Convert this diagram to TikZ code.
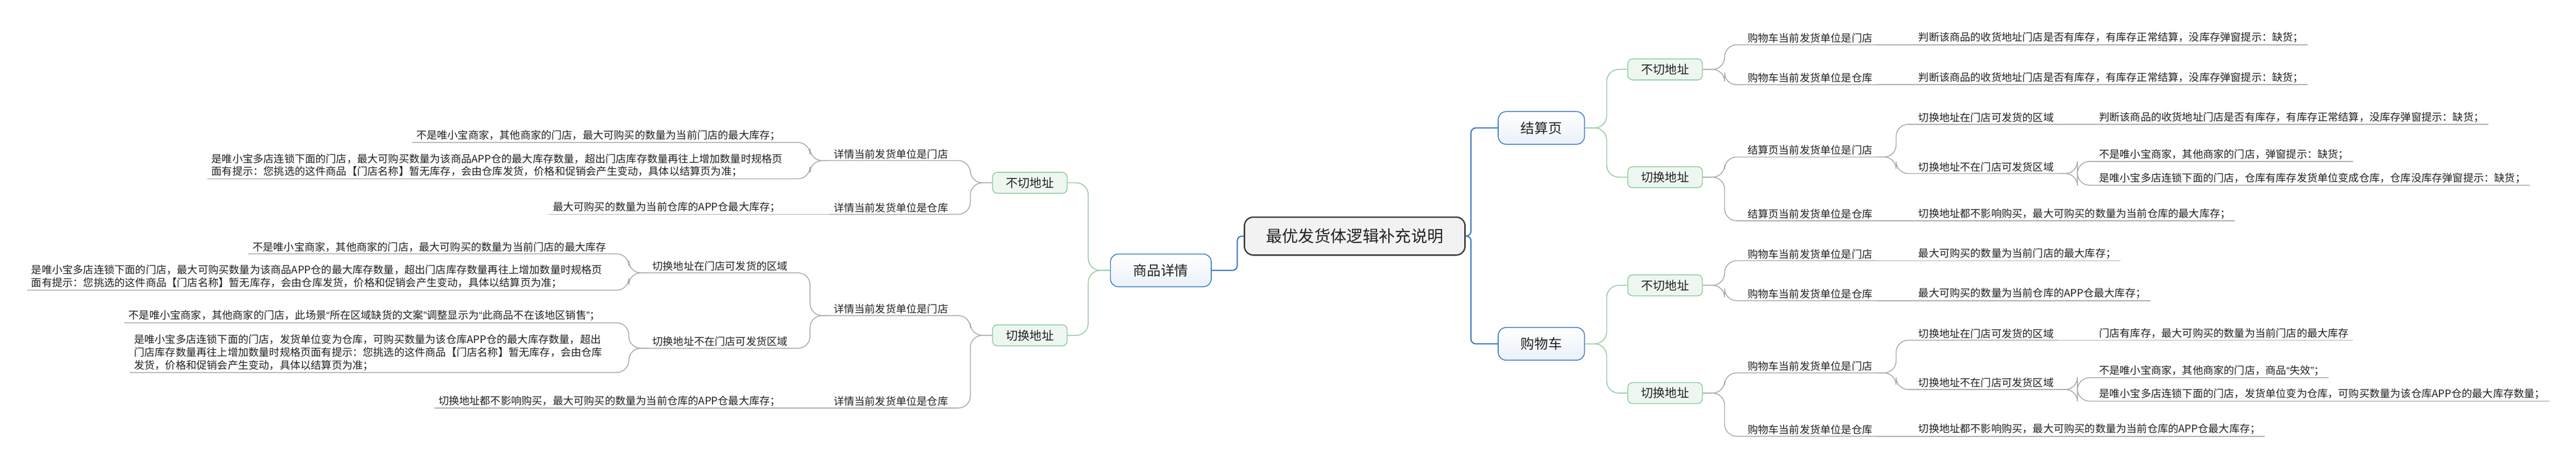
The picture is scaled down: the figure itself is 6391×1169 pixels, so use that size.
\documentclass[tikz,border=0pt]{standalone}
\usepackage{fontspec}
\setmainfont{Noto Sans CJK SC}
\newfontfamily\quotefont{Liberation Sans}
\newcommand\openq{{\quotefont “}}
\newcommand\closeq{{\quotefont ”}}
\definecolor{trunkblue}{HTML}{3C78C3}
\definecolor{topicfill}{HTML}{EAF1FA}
\definecolor{subgreen}{HTML}{8CCBA0}
\definecolor{subfill}{HTML}{EDF7EF}
\definecolor{twiggray}{HTML}{A8A8A8}
\definecolor{inkc}{HTML}{222222}
\begin{document}
\begin{tikzpicture}[x=0.01cm, y=-0.01cm,
  root/.style={draw=black!75, line width=1pt, fill=black!5, rounded corners=0.22cm, minimum width=5.47cm, minimum height=0.94cm, font=\fontsize{11.4}{13}\selectfont, text=inkc},
  topic/.style={draw=trunkblue, line width=0.6pt, top color=white, bottom color=topicfill, rounded corners=0.2cm, minimum height=0.81cm, font=\fontsize{9.7}{11}\selectfont, text=inkc},
  subtopic/.style={draw=subgreen, line width=0.6pt, fill=subfill, rounded corners=0.12cm, minimum width=1.85cm, minimum height=0.52cm, font=\fontsize{8.5}{10}\selectfont, text=inkc},
  leaf/.style={font=\fontsize{7.34}{8.96}\selectfont, text=inkc, inner xsep=0.1cm, inner ysep=0.04cm, align=left},
  rleaf/.style={leaf, anchor=south west},
  lleaf/.style={leaf, anchor=south east},
  trunk/.style={draw=trunkblue, line width=0.85pt, rounded corners=0.12cm},
  twig/.style={draw=subgreen, line width=0.6pt, rounded corners=0.3cm},
  link/.style={draw=twiggray, line width=0.6pt, rounded corners=0.3cm}]
\useasboundingbox (0,0) rectangle (6391,1169);

\node[root] (root) at (3361,585) {最优发货体逻辑补充说明};
\node[topic, minimum width=2.14cm] (jsy) at (3824,317) {结算页};
\node[topic, minimum width=2.14cm] (gwc) at (3824,852) {购物车};
\node[topic, minimum width=2.5cm] (spxq) at (2880,670) {商品详情};

\node[subtopic] (jsyN) at (4131,172) {不切地址};
\node[subtopic] (jsyS) at (4131,439) {切换地址};
\node[subtopic] (gwcN) at (4131,707) {不切地址};
\node[subtopic] (gwcS) at (4131,974) {切换地址};
\node[subtopic] (spxqN) at (2555,453) {不切地址};
\node[subtopic] (spxqS) at (2555,831) {切换地址};

\node[rleaf] (jsyN1) at (4325,111) {购物车当前发货单位是门店};
\node[rleaf] (jsyN1a) at (4749,111) {判断该商品的收货地址门店是否有库存，有库存正常结算，没库存弹窗提示：缺货；};
\node[rleaf] (jsyN2) at (4325,210) {购物车当前发货单位是仓库};
\node[rleaf] (jsyN2a) at (4749,210) {判断该商品的收货地址门店是否有库存，有库存正常结算，没库存弹窗提示：缺货；};
\node[rleaf] (jsyS1) at (4325,389) {结算页当前发货单位是门店};
\node[rleaf] (jsyS11) at (4749,308) {切换地址在门店可发货的区域};
\node[rleaf] (jsyS11a) at (5197,308) {判断该商品的收货地址门店是否有库存，有库存正常结算，没库存弹窗提示：缺货；};
\node[rleaf] (jsyS12) at (4749,430) {切换地址不在门店可发货区域};
\node[rleaf] (jsyS12a) at (5197,400) {不是唯小宝商家，其他商家的门店，弹窗提示：缺货；};
\node[rleaf] (jsyS12b) at (5197,459) {是唯小宝多店连锁下面的门店，仓库有库存发货单位变成仓库，仓库没库存弹窗提示：缺货；};
\node[rleaf] (jsyS2) at (4325,547) {结算页当前发货单位是仓库};
\node[rleaf] (jsyS2a) at (4749,547) {切换地址都不影响购买，最大可购买的数量为当前仓库的最大库存；};

\node[rleaf] (gwcN1) at (4325,646) {购物车当前发货单位是门店};
\node[rleaf] (gwcN1a) at (4749,646) {最大可购买的数量为当前门店的最大库存；};
\node[rleaf] (gwcN2) at (4325,745) {购物车当前发货单位是仓库};
\node[rleaf] (gwcN2a) at (4749,745) {最大可购买的数量为当前仓库的APP仓最大库存；};
\node[rleaf] (gwcS1) at (4325,924) {购物车当前发货单位是门店};
\node[rleaf] (gwcS11) at (4749,843) {切换地址在门店可发货的区域};
\node[rleaf] (gwcS11a) at (5197,843) {门店有库存，最大可购买的数量为当前门店的最大库存};
\node[rleaf] (gwcS12) at (4749,965) {切换地址不在门店可发货区域};
\node[rleaf] (gwcS12a) at (5197,936) {不是唯小宝商家，其他商家的门店，商品\openq 失效\closeq ；};
\node[rleaf] (gwcS12b) at (5197,994) {是唯小宝多店连锁下面的门店，发货单位变为仓库，可购买数量为该仓库APP仓的最大库存数量；};
\node[rleaf] (gwcS2) at (4325,1081) {购物车当前发货单位是仓库};
\node[rleaf] (gwcS2a) at (4749,1081) {切换地址都不影响购买，最大可购买的数量为当前仓库的APP仓最大库存；};

\node[lleaf] (spxqN1) at (2363,398) {详情当前发货单位是门店};
\node[lleaf] (spxqN1a) at (1947,353) {不是唯小宝商家，其他商家的门店，最大可购买的数量为当前门店的最大库存；};
\node[lleaf] (spxqN1b) at (1952,443) {是唯小宝多店连锁下面的门店，最大可购买数量为该商品APP仓的最大库存数量，超出门店库存数量再往上增加数量时规格页\\面有提示：您挑选的这件商品【门店名称】暂无库存，会由仓库发货，价格和促销会产生变动，具体以结算页为准；};
\node[lleaf] (spxqN2) at (2363,531) {详情当前发货单位是仓库};
\node[lleaf] (spxqN2a) at (1947,531) {最大可购买的数量为当前仓库的APP仓最大库存；};
\node[lleaf] (spxqS1) at (2363,782) {详情当前发货单位是门店};
\node[lleaf] (spxqS11) at (1965,676) {切换地址在门店可发货的区域};
\node[lleaf] (spxqS11a) at (1515,629) {不是唯小宝商家，其他商家的门店，最大可购买的数量为当前门店的最大库存};
\node[lleaf] (spxqS11b) at (1505,719) {是唯小宝多店连锁下面的门店，最大可购买数量为该商品APP仓的最大库存数量，超出门店库存数量再往上增加数量时规格页\\面有提示：您挑选的这件商品【门店名称】暂无库存，会由仓库发货，价格和促销会产生变动，具体以结算页为准；};
\node[lleaf] (spxqS12) at (1965,863) {切换地址不在门店可发货区域};
\node[lleaf] (spxqS12a) at (1500,800) {不是唯小宝商家，其他商家的门店，此场景\openq 所在区域缺货的文案\closeq 调整显示为\openq 此商品不在该地区销售\closeq ；};
\node[lleaf] (spxqS12b) at (1505,923) {是唯小宝多店连锁下面的门店，发货单位变为仓库，可购买数量为该仓库APP仓的最大库存数量，超出\\门店库存数量再往上增加数量时规格页面有提示：您挑选的这件商品【门店名称】暂无库存，会由仓库\\发货，价格和促销会产生变动，具体以结算页为准；};
\node[lleaf] (spxqS2) at (2363,1011) {详情当前发货单位是仓库};
\node[lleaf] (spxqS2a) at (1947,1011) {切换地址都不影响购买，最大可购买的数量为当前仓库的APP仓最大库存；};

\draw[trunk] (root.east) -- ++(13,0) |- (jsy.west);
\draw[trunk] (root.east) -- ++(13,0) |- (gwc.west);
\draw[trunk] (root.west) -- ++(-16,0) |- (spxq.east);

\draw[twig] (jsy.east) -- ++(54,0) |- (jsyN.west);
\draw[twig] (jsy.east) -- ++(54,0) |- (jsyS.west);
\draw[twig] (gwc.east) -- ++(54,0) |- (gwcN.west);
\draw[twig] (gwc.east) -- ++(54,0) |- (gwcS.west);
\draw[twig] (spxq.west) -- ++(-54,0) |- (spxqN.east);
\draw[twig] (spxq.west) -- ++(-54,0) |- (spxqS.east);

\draw[link] (jsyN.east) -- ++(54,0) |- (jsyN1.south east);
\draw[link] (jsyN.east) -- ++(54,0) |- (jsyN2.south east);
\draw[link] (jsyN1.south east) -- (jsyN1a.south east);
\draw[link] (jsyN2.south east) -- (jsyN2a.south east);
\draw[link] (jsyS.east) -- ++(54,0) |- (jsyS1.south east);
\draw[link] (jsyS.east) -- ++(54,0) |- (jsyS2.south east);
\draw[link] (jsyS1.south east) -- ++(48,0) |- (jsyS11.south east);
\draw[link] (jsyS1.south east) -- ++(48,0) |- (jsyS12.south east);
\draw[link] (jsyS11.south east) -- (jsyS11a.south east);
\draw[link] (jsyS12.south east) -- ++(48,0) |- (jsyS12a.south east);
\draw[link] (jsyS12.south east) -- ++(48,0) |- (jsyS12b.south east);
\draw[link] (jsyS2.south east) -- (jsyS2a.south east);

\draw[link] (gwcN.east) -- ++(54,0) |- (gwcN1.south east);
\draw[link] (gwcN.east) -- ++(54,0) |- (gwcN2.south east);
\draw[link] (gwcN1.south east) -- (gwcN1a.south east);
\draw[link] (gwcN2.south east) -- (gwcN2a.south east);
\draw[link] (gwcS.east) -- ++(54,0) |- (gwcS1.south east);
\draw[link] (gwcS.east) -- ++(54,0) |- (gwcS2.south east);
\draw[link] (gwcS1.south east) -- ++(48,0) |- (gwcS11.south east);
\draw[link] (gwcS1.south east) -- ++(48,0) |- (gwcS12.south east);
\draw[link] (gwcS11.south east) -- (gwcS11a.south east);
\draw[link] (gwcS12.south east) -- ++(48,0) |- (gwcS12a.south east);
\draw[link] (gwcS12.south east) -- ++(48,0) |- (gwcS12b.south east);
\draw[link] (gwcS2.south east) -- (gwcS2a.south east);

\draw[link] (spxqN.west) -- ++(-54,0) |- (spxqN1.south west);
\draw[link] (spxqN.west) -- ++(-54,0) |- (spxqN2.south west);
\draw[link] (spxqN1.south west) -- ++(-48,0) |- (spxqN1a.south west);
\draw[link] (spxqN1.south west) -- ++(-48,0) |- (spxqN1b.south west);
\draw[link] (spxqN2.south west) -- (spxqN2a.south west);
\draw[link] (spxqS.west) -- ++(-54,0) |- (spxqS1.south west);
\draw[link] (spxqS.west) -- ++(-54,0) |- (spxqS2.south west);
\draw[link] (spxqS1.south west) -- ++(-48,0) |- (spxqS11.south west);
\draw[link] (spxqS1.south west) -- ++(-48,0) |- (spxqS12.south west);
\draw[link] (spxqS11.south west) -- ++(-48,0) |- (spxqS11a.south west);
\draw[link] (spxqS11.south west) -- ++(-48,0) |- (spxqS11b.south west);
\draw[link] (spxqS12.south west) -- ++(-48,0) |- (spxqS12a.south west);
\draw[link] (spxqS12.south west) -- ++(-48,0) |- (spxqS12b.south west);
\draw[link] (spxqS2.south west) -- (spxqS2a.south west);
\end{tikzpicture}
\end{document}
